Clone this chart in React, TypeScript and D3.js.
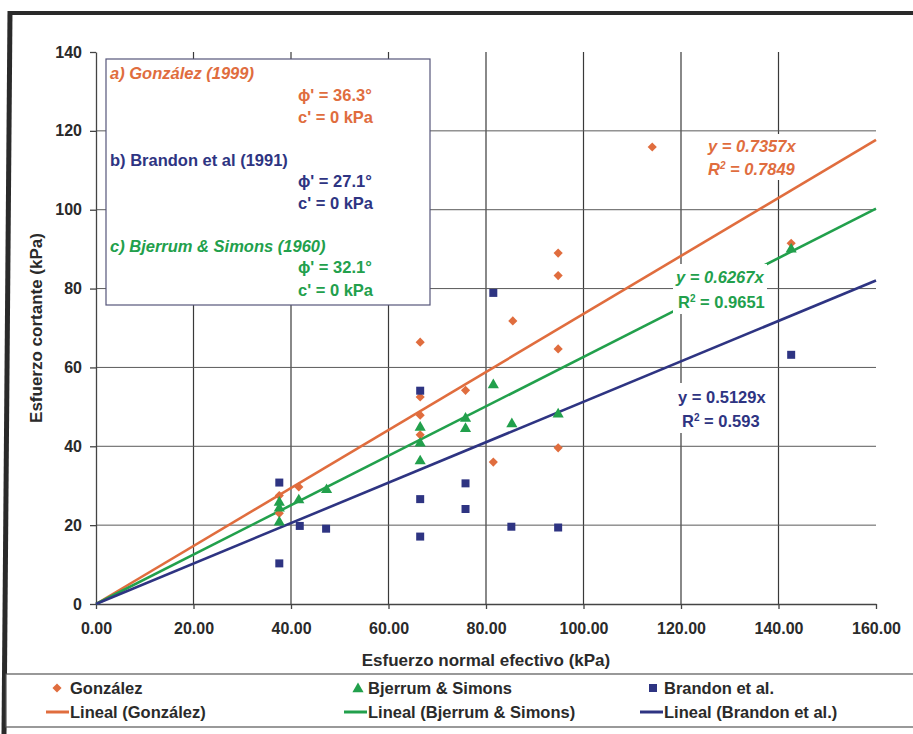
import React, { useEffect, useRef } from 'react';
import { axisBottom, axisLeft, line, scaleLinear, select, symbol, symbolSquare, symbolTriangle } from 'd3';

// González (1999)
const gonzalezX = [37.6, 37.6, 41.6, 66.5, 66.5, 66.5, 66.5, 75.8, 81.5, 85.5, 94.8, 94.8, 94.8, 94.8, 114.1, 142.6];
const gonzalezY = [27.5, 23, 29.7, 66.4, 52.5, 47.9, 42.9, 54.2, 36.0, 71.8, 89, 83.3, 64.7, 39.6, 115.9, 91.5];
// Bjerrum & Simons (1960)
const bjerrumX = [37.6, 37.6, 37.6, 41.6, 47.3, 66.5, 66.5, 66.5, 75.8, 75.8, 81.5, 85.3, 94.8, 142.6];
const bjerrumY = [26, 24.5, 21, 26.6, 29.2, 45, 41, 36.5, 47.3, 44.7, 55.8, 45.9, 48.4, 90.2];
// Brandon et al (1991)
const brandonX = [37.6, 37.6, 41.8, 47.2, 66.5, 66.5, 66.5, 75.8, 75.8, 81.5, 85.2, 94.8, 142.6];
const brandonY = [30.8, 10.3, 19.8, 19.1, 54.1, 26.6, 17.1, 30.6, 24.1, 78.9, 19.6, 19.4, 63.2];

const slopes = [0.7357, 0.6267, 0.5129];
const r2 = ['0.7849', '0.9651', '0.593'];

const xTicks = [0, 20, 40, 60, 80, 100, 120, 140, 160];
const yTicks = [0, 20, 40, 60, 80, 100, 120, 140];

const ORANGE = '#e06d3e';
const GREEN = '#22a04c';
const NAVY = '#2e3482';
const FONT = '"Liberation Sans", Arial, sans-serif';

function App() {
  const xAxisRef = useRef(null);
  const yAxisRef = useRef(null);

  const x = scaleLinear().domain([0, 160]).range([96, 876]);
  const y = scaleLinear().domain([0, 140]).range([604, 52]);

  useEffect(() => {
    const xAxis = axisBottom(x)
      .tickValues(xTicks)
      .tickFormat(d => d.toFixed(2))
      .tickSize(5)
      .tickSizeOuter(0)
      .tickPadding(14);
    const yAxis = axisLeft(y).tickValues(yTicks).tickSize(6).tickSizeOuter(0).tickPadding(8);

    const gx = select(xAxisRef.current).call(xAxis);
    const gy = select(yAxisRef.current).call(yAxis);
    [gx, gy].forEach(g => {
      g.selectAll('path, line').attr('stroke', '#444').attr('stroke-width', 1.3);
      g.selectAll('text')
        .attr('fill', '#2a2a2a')
        .style('font-family', FONT)
        .style('font-size', '16px')
        .style('font-weight', 'bold');
    });
  }, []);

  const trend = line()
    .x(d => x(d[0]))
    .y(d => y(d[1]));

  const series = [
    { xs: gonzalezX, ys: gonzalezY, color: ORANGE, kind: 'diamond' },
    { xs: bjerrumX, ys: bjerrumY, color: GREEN, kind: 'triangle' },
    { xs: brandonX, ys: brandonY, color: NAVY, kind: 'square' },
  ];
  const trendColors = [ORANGE, GREEN, NAVY];

  const diamond = symbol(symbolSquare, 42)();
  const tri = symbol(symbolTriangle, 54)();
  const sq = symbol(symbolSquare, 64)();

  const marker = (kind, cx, cy, color, key) => {
    if (kind === 'diamond')
      return <path key={key} d={diamond} transform={`translate(${cx},${cy}) rotate(45)`} fill={color} />;
    if (kind === 'triangle')
      return <path key={key} d={tri} transform={`translate(${cx},${cy + 1})`} fill={color} />;
    return <path key={key} d={sq} transform={`translate(${cx},${cy})`} fill={color} />;
  };

  const txt = { fontFamily: FONT, fontWeight: 'bold', fontSize: 16.5 };

  const legendItems = [
    { label: 'González', line: 'Lineal (González)', color: ORANGE, kind: 'diamond', mx: 57, tx: 70 },
    { label: 'Bjerrum & Simons', line: 'Lineal (Bjerrum & Simons)', color: GREEN, kind: 'triangle', mx: 358, tx: 368 },
    { label: 'Brandon et al.', line: 'Lineal (Brandon et al.)', color: NAVY, kind: 'square', mx: 653, tx: 664 },
  ];

  return (
    <svg width={913} height={734} style={{ position: 'absolute', left: 0, top: 0, background: '#fff' }}>
      {/* outer frame */}
      <line x1={9} y1={13} x2={913} y2={13} stroke="#2a2a2a" strokeWidth={4} />
      <line x1={10} y1={11} x2={4} y2={734} stroke="#2a2a2a" strokeWidth={5} />

      {/* gridlines */}
      {xTicks.slice(1, -1).map(t => (
        <line key={'gx' + t} x1={x(t)} x2={x(t)} y1={y(140)} y2={y(0)} stroke="#3a3a3a" strokeWidth={1.2} />
      ))}
      {yTicks.slice(1, -1).map(t => (
        <line key={'gy' + t} x1={x(0)} x2={x(160)} y1={y(t)} y2={y(t)} stroke="#5a5a5a" strokeWidth={1} />
      ))}

      <g ref={xAxisRef} transform={`translate(0,${y(0)})`} />
      <g ref={yAxisRef} transform={`translate(${x(0)},0)`} />

      {/* trendlines */}
      {slopes.map((s, i) => (
        <path key={'t' + i} d={trend([[0, 0], [160, s * 160]])} stroke={trendColors[i]} strokeWidth={2.6} fill="none" />
      ))}

      {/* points */}
      {series.map((s, si) => s.xs.map((v, i) => marker(s.kind, x(v), y(s.ys[i]), s.color, `p${si}-${i}`)))}

      {/* trendline equations */}
      <g style={txt}>
        <rect x={703} y={134} width={98} height={46} fill="#fff" />
        <text x={708} y={152} fill={ORANGE} fontStyle="italic">y = {slopes[0]}x</text>
        <text x={708} y={175} fill={ORANGE} fontStyle="italic">
          R<tspan dy={-6} fontSize={10}>2</tspan>
          <tspan dy={6}> = {r2[0]}</tspan>
        </text>

        <rect x={673} y={264} width={94} height={50} fill="#fff" />
        <text x={676} y={283} fill={GREEN} fontStyle="italic">y = {slopes[1]}x</text>
        <text x={678} y={308} fill={GREEN}>
          R<tspan dy={-6} fontSize={10}>2</tspan>
          <tspan dy={6}> = {r2[1]}</tspan>
        </text>

        <rect x={673} y={383} width={96} height={50} fill="#fff" />
        <text x={678} y={403} fill={NAVY}>y = {slopes[2]}x</text>
        <text x={682} y={427} fill={NAVY}>
          R<tspan dy={-6} fontSize={10}>2</tspan>
          <tspan dy={6}> = {r2[2]}</tspan>
        </text>
      </g>

      {/* annotation box */}
      <rect x={106} y={59} width={324} height={246} fill="#fff" stroke="#55557a" strokeWidth={1.2} />
      <g style={txt}>
        <text x={110} y={79} fill={ORANGE} fontStyle="italic">a) González (1999)</text>
        <text x={298} y={101} fill={ORANGE}>ϕ' = 36.3°</text>
        <text x={298} y={123} fill={ORANGE}>c' = 0 kPa</text>
        <text x={110} y={166} fill={NAVY}>b) Brandon et al (1991)</text>
        <text x={298} y={187} fill={NAVY}>ϕ' = 27.1°</text>
        <text x={298} y={209} fill={NAVY}>c' = 0 kPa</text>
        <text x={110} y={252} fill={GREEN} fontStyle="italic">c) Bjerrum &amp; Simons (1960)</text>
        <text x={298} y={273} fill={GREEN}>ϕ' = 32.1°</text>
        <text x={298} y={296} fill={GREEN}>c' = 0 kPa</text>
      </g>

      {/* axis titles */}
      <text x={486} y={666} textAnchor="middle" fill="#2a2a2a" style={{ ...txt, fontSize: 17 }}>
        Esfuerzo normal efectivo (kPa)
      </text>
      <text
        transform={`translate(42,${(y(0) + y(140)) / 2}) rotate(-90)`}
        textAnchor="middle"
        fill="#2a2a2a"
        style={{ ...txt, fontSize: 17 }}
      >
        Esfuerzo cortante (kPa)
      </text>

      {/* legend */}
      <rect x={6} y={674} width={912} height={53} fill="#fff" stroke="#555" strokeWidth={1.2} />
      {legendItems.map((it, i) => (
        <g key={'l' + i} style={txt}>
          {marker(it.kind, it.mx, 688, it.color, 'lm' + i)}
          <text x={it.tx} y={694} fill="#2a2a2a">{it.label}</text>
          <line x1={it.tx - 24} x2={it.tx - 1} y1={712} y2={712} stroke={it.color} strokeWidth={3} />
          <text x={it.tx} y={718} fill="#2a2a2a">{it.line}</text>
        </g>
      ))}
    </svg>
  );
}

export default App;
